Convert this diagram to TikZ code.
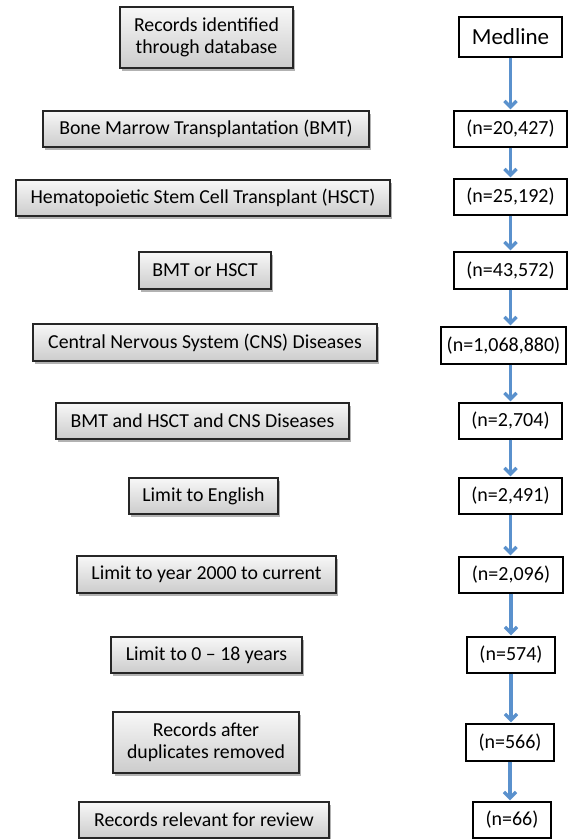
\documentclass[tikz,border=0pt]{standalone}
\usepackage{fontspec}
\setmainfont{Carlito}
\usetikzlibrary{arrows.meta,shadows}
\definecolor{arrblue}{RGB}{90,145,205}
\tikzset{
  lbox/.style={draw=black!85, line width=1.3pt, inner sep=0pt, align=center,
    top color=black!3, bottom color=black!20,
    drop shadow={shadow xshift=1.5pt, shadow yshift=-2.5pt, fill=black, opacity=0.3},
    font=\fontsize{19.8}{22}\selectfont},
  rbox/.style={draw=black, line width=1.4pt, fill=white, inner sep=0pt, align=center,
    font=\fontsize{20}{24}\selectfont},
  arr/.style={draw=arrblue, line width=3.3pt, -{Straight Barb[length=6pt,width=12pt]}, shorten >=1pt}
}
\begin{document}
\begin{tikzpicture}[x=1pt,y=-1pt]
\useasboundingbox (0,0) rectangle (581,839);
% left column
\node[lbox, minimum width=173pt, minimum height=61pt] (l0) at (206.5,37.5) {Records identified\\through database};
\node[lbox, minimum width=326pt, minimum height=36pt] (l1) at (206,129) {Bone Marrow Transplantation (BMT)};
\node[lbox, minimum width=374pt, minimum height=36pt] (l2) at (203,198) {Hematopoietic Stem Cell Transplant (HSCT)};
\node[lbox, minimum width=132pt, minimum height=37pt] (l3) at (205,270.5) {BMT or HSCT};
\node[lbox, minimum width=344pt, minimum height=37pt] (l4) at (205,342.5) {Central Nervous System (CNS) Diseases};
\node[lbox, minimum width=293pt, minimum height=36pt] (l5) at (202.5,421) {BMT and HSCT and CNS Diseases};
\node[lbox, minimum width=149pt, minimum height=36pt] (l6) at (203.5,496) {Limit to English};
\node[lbox, minimum width=259pt, minimum height=37pt] (l7) at (206.5,574.5) {Limit to year 2000 to current};
\node[lbox, minimum width=191pt, minimum height=36pt] (l8) at (206.5,655) {Limit to 0 -- 18 years};
\node[lbox, minimum width=186pt, minimum height=61pt] (l9) at (206,742.5) {Records after\\duplicates removed};
\node[lbox, minimum width=250pt, minimum height=36pt] (l10) at (204,820) {Records relevant for review};
% right column
\node[rbox, minimum width=103pt, minimum height=40pt, font=\fontsize{23}{26}\selectfont] (r0) at (510.5,37) {Medline};
\node[rbox, minimum width=113pt, minimum height=36pt] (r1) at (510.5,129) {(n=20,427)};
\node[rbox, minimum width=113pt, minimum height=36pt] (r2) at (510.5,197) {(n=25,192)};
\node[rbox, minimum width=113pt, minimum height=37pt] (r3) at (510.5,270.5) {(n=43,572)};
\node[rbox, minimum width=125pt, minimum height=37pt] (r4) at (503.5,345.5) {(n=1,068,880)};
\node[rbox, minimum width=103pt, minimum height=36pt] (r5) at (510.5,421) {(n=2,704)};
\node[rbox, minimum width=103pt, minimum height=36pt] (r6) at (510.5,496) {(n=2,491)};
\node[rbox, minimum width=104pt, minimum height=36pt] (r7) at (511,575) {(n=2,096)};
\node[rbox, minimum width=88pt, minimum height=36pt] (r8) at (511,655) {(n=574)};
\node[rbox, minimum width=88pt, minimum height=37pt] (r9) at (510,742.5) {(n=566)};
\node[rbox, minimum width=78pt, minimum height=36pt] (r10) at (512,820) {(n=66)};
% arrows
\draw[arr] (r0.south) -- (r0.south |- r1.north);
\draw[arr] (r1.south) -- (r1.south |- r2.north);
\draw[arr] (r2.south) -- (r2.south |- r3.north);
\draw[arr] (r3.south) -- (r3.south |- r4.north);
\draw[arr] (r5.north |- r4.south) -- (r5.north);
\draw[arr] (r5.south) -- (r5.south |- r6.north);
\draw[arr] (r6.south) -- (r6.south |- r7.north);
\draw[arr] (r7.south) -- (r7.south |- r8.north);
\draw[arr] (r8.south) -- (r8.south |- r9.north);
\draw[arr] (r9.south) -- (r9.south |- r10.north);
\end{tikzpicture}
\end{document}
